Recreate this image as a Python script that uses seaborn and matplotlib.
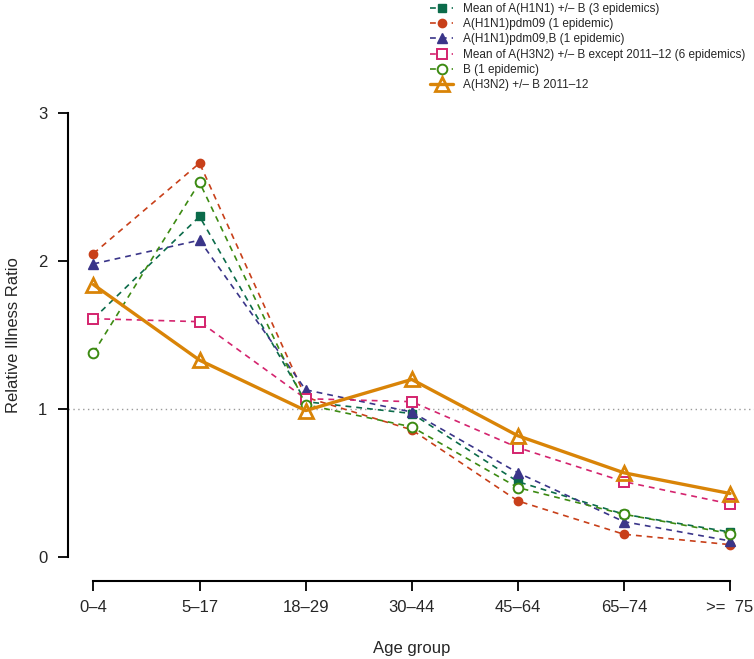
import pandas as pd
import numpy as np
import matplotlib
matplotlib.use("Agg")
import matplotlib.pyplot as plt
import seaborn as sns

age_groups = ["0\u20134", "5\u201317", "18\u201329", "30\u201344", "45\u201364", "65\u201374", ">=  75"]

h1n1_mean = [1.61, 2.30, 1.05, 0.97, 0.51, 0.29, 0.17]
h1n1_pdm09 = [2.05, 2.66, 1.08, 0.86, 0.38, 0.155, 0.085]
h1n1_pdm09_b = [1.98, 2.14, 1.13, 0.98, 0.57, 0.24, 0.11]
h3n2_mean = [1.61, 1.59, 1.07, 1.05, 0.74, 0.51, 0.36]
b_only = [1.38, 2.53, 1.03, 0.88, 0.47, 0.29, 0.16]
h3n2_2011 = [1.84, 1.33, 0.99, 1.20, 0.82, 0.57, 0.43]

labels = [
    "Mean of A(H1N1) +/\u2013 B (3 epidemics)",
    "A(H1N1)pdm09 (1 epidemic)",
    "A(H1N1)pdm09,B (1 epidemic)",
    "Mean of A(H3N2) +/\u2013 B except 2011\u201312 (6 epidemics)",
    "B (1 epidemic)",
    "A(H3N2) +/\u2013 B 2011\u201312",
]
colors = ["#0B6B4A", "#C8401A", "#3A3589", "#D4246E", "#3C8A12", "#D98407"]
series = [h1n1_mean, h1n1_pdm09, h1n1_pdm09_b, h3n2_mean, b_only, h3n2_2011]

sns.set_style("white")
plt.rcParams['font.family'] = ['Liberation Sans', 'DejaVu Sans']

fig = plt.figure(figsize=(7.54, 6.59), dpi=100)
W, H = 754, 659
ax = fig.add_axes([68 / W, (H - 575) / H, (755.5 - 68) / W, (575 - 95) / H])

x = np.arange(len(age_groups))
ax.axhline(1, color="#9a9a9a", linestyle=(0, (1, 2.5)), linewidth=1.0, zorder=1)

styles = [
    dict(marker="s", mfc=colors[0], ms=6),
    dict(marker="o", mfc=colors[1], ms=6),
    dict(marker="^", mfc=colors[2], ms=7),
    dict(marker="s", mfc="white", ms=7, mew=1.4),
    dict(marker="o", mfc="white", ms=7, mew=1.4),
    dict(marker="^", mfc="none", ms=10, mew=2),
]

for i, (vals, lab, col, st) in enumerate(zip(series, labels, colors, styles)):
    df = pd.DataFrame({"age": x, "rr": vals})
    last = i == 5
    sns.lineplot(data=df, x="age", y="rr", ax=ax, color=col, label=lab,
                 marker=st["marker"], markersize=st["ms"],
                 markerfacecolor=st["mfc"], markeredgecolor=col,
                 markeredgewidth=st.get("mew", 1),
                 linewidth=2.4 if last else 1.2,
                 linestyle="-" if last else (0, (3.5, 3)),
                 zorder=3 + i)

ax.set_xlim(-0.24, 6.24)
ax.set_ylim(-0.12, 3.12)
ax.set_xticks(x)
ax.set_xticklabels(age_groups)
ax.set_yticks([0, 1, 2, 3])
ax.set_yticklabels(["0", "1", "2", "3"])
for s in ["top", "right"]:
    ax.spines[s].set_visible(False)
ax.spines["left"].set_bounds(0, 3)
ax.spines["bottom"].set_bounds(0, 6)
ax.spines["bottom"].set_position(("outward", 4))
for s in ["left", "bottom"]:
    ax.spines[s].set_color("black")
    ax.spines[s].set_linewidth(1.5)
ax.tick_params(axis="both", direction="out", length=7, width=1.3, color="black",
               labelsize=12, pad=8, bottom=True, left=True)
ax.tick_params(axis="x", pad=7)
ax.set_xlabel("Age group", fontsize=12, labelpad=19)
ax.set_ylabel("Relative Illness Ratio", fontsize=12, labelpad=12)

handles, labs = ax.get_legend_handles_labels()
ax.legend_.remove()
fig.legend(handles, labs, loc="upper left", bbox_to_anchor=(425 / W, 1.0 + 2 / H),
           frameon=False, fontsize=8.5, handlelength=2.0, handletextpad=0.8,
           labelspacing=0.28, borderaxespad=0.0)

fig.savefig("out.png", dpi=100)
